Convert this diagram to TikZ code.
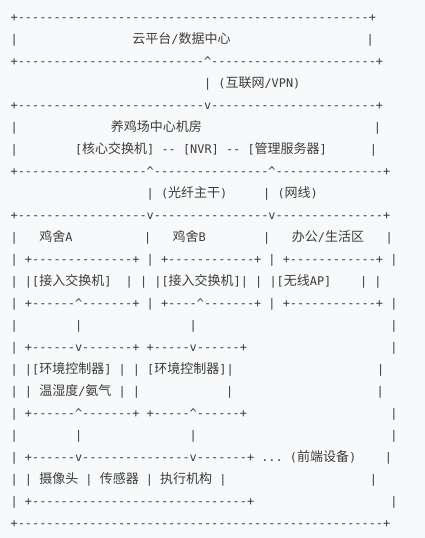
\documentclass[tikz,border=0pt]{standalone}
\usepackage{fontspec}
\setmonofont{DejaVu Sans Mono}
\newfontfamily\cjk{Noto Sans CJK SC}
\usepackage{xcolor}
\definecolor{ink}{RGB}{60,60,60}
\definecolor{paper}{RGB}{248,249,250}
\newcommand\sk[1]{\foreach\k in {1,...,#1}{\ }}
\newcommand\dsh[1]{\foreach\k in {1,...,#1}{-}}
\newcommand\zh[1]{{\cjk\fontsize{13}{16}\selectfont #1}}
\newcommand\up{\textasciicircum}

\begin{document}
\begin{tikzpicture}[x=1pt,y=-1pt]
	\tikzset{row/.style={anchor=base west, inner sep=0pt, text=ink, font=\ttfamily\fontsize{11.9}{14}\selectfont}}
	\fill [paper] (0,0) rectangle (425,538);
	\useasboundingbox (0,0) rectangle (425,538);
	% cloud
	\node [row] (l1) at (10.4,21.0) {+\dsh{49}+};
	\node [row] (l2) at (10.4,43.0) {|\sk{16}\zh{云平台}/\zh{数据中心}\sk{19}|};
	\node [row] (l3) at (10.4,65.1) {+\dsh{26}\up\dsh{23}+};
	\node [row] (l4) at (10.4,87.1) {\sk{27}|\sk{1}(\zh{互联网}/VPN)};
	% machine room
	\node [row] (l5) at (10.4,109.2) {+\dsh{26}v\dsh{23}+};
	\node [row] (l6) at (10.4,131.2) {|\sk{13}\zh{养鸡场中心机房}\sk{24}|};
	\node [row] (l7) at (10.4,153.2) {|\sk{8}[\zh{核心交换机}]\sk{1}\dsh{2}\sk{1}[NVR]\sk{1}\dsh{2}\sk{1}[\zh{管理服务器}]\sk{6}|};
	\node [row] (l8) at (10.4,175.3) {+\dsh{18}\up\dsh{16}\up\dsh{15}+};
	\node [row] (l9) at (10.4,197.3) {\sk{19}|\sk{1}(\zh{光纤主干})\sk{5}|\sk{1}(\zh{网线})};
	% houses
	\node [row] (l10) at (10.4,219.4) {+\dsh{18}v\dsh{16}v\dsh{15}+};
	\node [row] (l11) at (10.4,241.4) {|\sk{3}\zh{鸡舍}A\sk{10}|\sk{3}\zh{鸡舍}B\sk{8}|\sk{3}\zh{办公}/\zh{生活区}\sk{3}|};
	\node [row] (l12) at (10.4,263.4) {|\sk{1}+\dsh{14}+\sk{1}|\sk{1}+\dsh{12}+\sk{1}|\sk{1}+\dsh{12}+\sk{1}|};
	\node [row] (l13) at (10.4,285.5) {|\sk{1}|[\zh{接入交换机}]\sk{2}|\sk{1}|\sk{1}|[\zh{接入交换机}]|\sk{1}|\sk{1}|[\zh{无线}AP]\sk{4}|\sk{1}|};
	\node [row] (l14) at (10.4,307.5) {|\sk{1}+\dsh{6}\up\dsh{7}+\sk{1}|\sk{1}+\dsh{4}\up\dsh{7}+\sk{1}|\sk{1}+\dsh{12}+\sk{1}|};
	\node [row] (l15) at (10.4,329.6) {|\sk{8}|\sk{15}|\sk{27}|};
	% controllers
	\node [row] (l16) at (10.4,351.6) {|\sk{1}+\dsh{6}v\dsh{7}+\sk{1}+\dsh{5}v\dsh{6}+\sk{20}|};
	\node [row] (l17) at (10.4,373.6) {|\sk{1}|[\zh{环境控制器}]\sk{1}|\sk{1}|\sk{1}[\zh{环境控制器}]|\sk{20}|};
	\node [row] (l18) at (10.4,395.7) {|\sk{1}|\sk{1}\zh{温湿度}/\zh{氨气}\sk{1}|\sk{1}|\sk{12}|\sk{20}|};
	\node [row] (l19) at (10.4,417.7) {|\sk{1}+\dsh{6}\up\dsh{7}+\sk{1}+\dsh{5}\up\dsh{6}+\sk{20}|};
	\node [row] (l20) at (10.4,439.8) {|\sk{8}|\sk{15}|\sk{27}|};
	% front end
	\node [row] (l21) at (10.4,461.8) {|\sk{1}+\dsh{6}v\dsh{15}v\dsh{7}+\sk{1}...\sk{1}(\zh{前端设备})\sk{4}|};
	\node [row] (l22) at (10.4,483.8) {|\sk{1}|\sk{1}\zh{摄像头}\sk{1}|\sk{1}\zh{传感器}\sk{1}|\sk{1}\zh{执行机构}\sk{1}|\sk{20}|};
	\node [row] (l23) at (10.4,505.9) {|\sk{1}+\dsh{30}+\sk{19}|};
	\node [row] (l24) at (10.4,527.9) {+\dsh{51}+};
\end{tikzpicture}
\end{document}
